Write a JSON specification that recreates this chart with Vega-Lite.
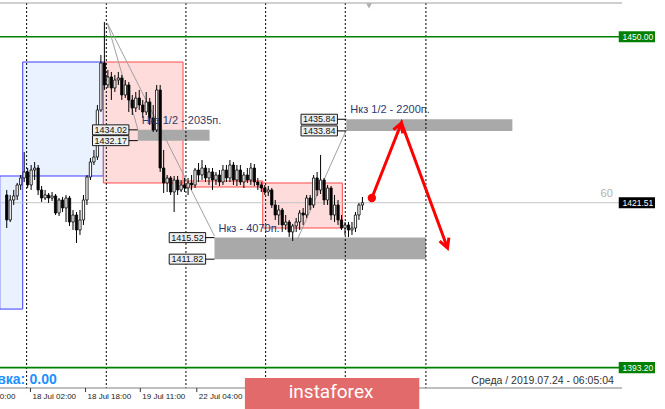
{
"$schema": "https://vega.github.io/schema/vega-lite/v6.json",
"width": 622, "height": 385,
"autosize": {"type": "none"},
"padding": {"left": 0, "top": 3, "right": 43, "bottom": 21},
"background": "white",
"config": {"view": {"stroke": null}, "font": "Liberation Sans"},
"datasets": {
"boxes": [
{"kind":"blue","x1":-2,"x2":4.58,"p1":1426.10,"p2":1403.25},
{"kind":"blue","x1":4.58,"x2":27.7,"p1":1445.67,"p2":1426.10},
{"kind":"red","x1":27.7,"x2":50.55,"p1":1445.67,"p2":1424.90},
{"kind":"red","x1":50.55,"x2":73.4,"p1":1425.24,"p2":1424.21},
{"kind":"red","x1":73.4,"x2":96.24,"p1":1424.90,"p2":1417.17}
],
"zones": [
{"x1":37.57,"x2":58.16,"top":1434.02,"bot":1432.17,"label":"Нкз 1/2 - 2035п."},
{"x1":59.57,"x2":120.2,"top":1415.52,"bot":1411.82,"label":"Нкз - 4070п."},
{"x1":97.37,"x2":145.0,"top":1435.84,"bot":1433.84,"label":"Нкз 1/2 - 2200п."}
],
"grid": [{"t":5.7},{"t":28.55},{"t":51.39},{"t":74.24},{"t":97.08},{"t":120.21}],
"xlabels": [{"t":-10.6,"s":"17 Jul 10:00"},{"t":6.8,"s":"18 Jul 02:00"},{"t":22.6,"s":"18 Jul 18:00"},{"t":38.3,"s":"19 Jul 11:00"},{"t":54.5,"s":"22 Jul 04:00"}],
"hlines": [{"p":1450.00,"kind":"green"},{"p":1393.20,"kind":"green"},{"p":1421.51,"kind":"bid"}],
"trends": [
{"g":"a","t":28.83,"p":1452.37},{"g":"a","t":37.57,"p":1434.17},
{"g":"b","t":28.83,"p":1452.37},{"g":"b","t":59.57,"p":1415.80},
{"g":"c","t":97.37,"p":1434.00},{"g":"c","t":83.26,"p":1415.10}
],
"arrow": [{"k":0,"t":104.7,"p":1422.32},{"k":1,"t":113.2,"p":1435.20},{"k":2,"t":126.4,"p":1413.74}],
"candles": [
{"t":0,"o":1422.84,"h":1423.70,"l":1417.17,"c":1418.55},
{"t":1,"o":1418.55,"h":1422.84,"l":1418.20,"c":1421.98},
{"t":2,"o":1421.98,"h":1423.70,"l":1421.12,"c":1422.67},
{"t":3,"o":1422.67,"h":1424.90,"l":1421.98,"c":1424.56},
{"t":4,"o":1424.56,"h":1426.27,"l":1423.70,"c":1425.76},
{"t":5,"o":1425.76,"h":1430.22,"l":1425.07,"c":1426.79},
{"t":6,"o":1426.79,"h":1427.47,"l":1424.04,"c":1424.56},
{"t":7,"o":1424.56,"h":1427.99,"l":1423.70,"c":1427.13},
{"t":8,"o":1427.13,"h":1428.50,"l":1425.41,"c":1427.47},
{"t":9,"o":1427.47,"h":1427.99,"l":1422.84,"c":1423.70},
{"t":10,"o":1423.70,"h":1424.38,"l":1421.64,"c":1422.32},
{"t":11,"o":1422.32,"h":1423.70,"l":1421.98,"c":1422.84},
{"t":12,"o":1422.84,"h":1423.18,"l":1421.47,"c":1422.32},
{"t":13,"o":1422.32,"h":1423.35,"l":1421.81,"c":1422.67},
{"t":14,"o":1422.67,"h":1423.01,"l":1419.40,"c":1419.75},
{"t":15,"o":1419.75,"h":1422.32,"l":1419.23,"c":1421.98},
{"t":16,"o":1421.98,"h":1422.50,"l":1419.92,"c":1420.61},
{"t":17,"o":1420.61,"h":1422.84,"l":1418.20,"c":1422.32},
{"t":18,"o":1422.32,"h":1422.67,"l":1417.52,"c":1418.20},
{"t":19,"o":1418.20,"h":1420.26,"l":1416.83,"c":1419.40},
{"t":20,"o":1419.40,"h":1419.92,"l":1414.60,"c":1416.83},
{"t":21,"o":1416.83,"h":1420.26,"l":1415.97,"c":1418.55},
{"t":22,"o":1418.55,"h":1422.84,"l":1417.69,"c":1421.98},
{"t":23,"o":1421.98,"h":1426.27,"l":1421.12,"c":1425.93},
{"t":24,"o":1425.93,"h":1429.19,"l":1425.41,"c":1428.50},
{"t":25,"o":1428.50,"h":1430.57,"l":1427.99,"c":1429.36},
{"t":26,"o":1429.36,"h":1438.29,"l":1428.85,"c":1437.43},
{"t":27,"o":1437.43,"h":1446.88,"l":1437.09,"c":1445.50},
{"t":28,"o":1445.50,"h":1452.54,"l":1440.87,"c":1441.73},
{"t":29,"o":1441.73,"h":1444.30,"l":1441.21,"c":1443.10},
{"t":30,"o":1443.10,"h":1443.96,"l":1439.15,"c":1441.21},
{"t":31,"o":1441.21,"h":1443.44,"l":1440.52,"c":1442.58},
{"t":32,"o":1442.58,"h":1443.96,"l":1441.73,"c":1442.93},
{"t":33,"o":1442.93,"h":1443.44,"l":1439.15,"c":1440.01},
{"t":34,"o":1440.01,"h":1442.58,"l":1439.49,"c":1441.73},
{"t":35,"o":1441.73,"h":1442.24,"l":1437.09,"c":1439.15},
{"t":36,"o":1439.15,"h":1440.01,"l":1436.57,"c":1437.78},
{"t":37,"o":1437.78,"h":1440.52,"l":1437.09,"c":1439.49},
{"t":38,"o":1439.49,"h":1440.87,"l":1437.43,"c":1438.29},
{"t":39,"o":1438.29,"h":1439.15,"l":1436.06,"c":1437.09},
{"t":40,"o":1437.09,"h":1440.52,"l":1436.57,"c":1438.81},
{"t":41,"o":1438.81,"h":1439.49,"l":1434.86,"c":1436.06},
{"t":42,"o":1436.06,"h":1438.29,"l":1433.66,"c":1434.00},
{"t":43,"o":1434.00,"h":1441.73,"l":1433.66,"c":1440.87},
{"t":44,"o":1440.87,"h":1441.73,"l":1426.79,"c":1427.47},
{"t":45,"o":1427.47,"h":1430.57,"l":1423.18,"c":1424.90},
{"t":46,"o":1424.90,"h":1426.27,"l":1423.35,"c":1425.76},
{"t":47,"o":1425.76,"h":1426.10,"l":1422.84,"c":1423.35},
{"t":48,"o":1423.35,"h":1426.10,"l":1419.92,"c":1425.41},
{"t":49,"o":1425.41,"h":1426.10,"l":1422.84,"c":1423.70},
{"t":50,"o":1423.70,"h":1425.41,"l":1423.35,"c":1424.56},
{"t":51,"o":1424.56,"h":1425.76,"l":1423.35,"c":1424.04},
{"t":52,"o":1424.04,"h":1425.76,"l":1422.84,"c":1424.90},
{"t":53,"o":1424.90,"h":1426.27,"l":1423.70,"c":1424.56},
{"t":54,"o":1424.56,"h":1427.47,"l":1424.04,"c":1427.13},
{"t":55,"o":1427.13,"h":1428.33,"l":1425.07,"c":1426.27},
{"t":56,"o":1426.27,"h":1428.85,"l":1425.41,"c":1427.47},
{"t":57,"o":1427.47,"h":1427.99,"l":1425.07,"c":1425.76},
{"t":58,"o":1425.76,"h":1427.47,"l":1424.56,"c":1426.79},
{"t":59,"o":1426.79,"h":1427.47,"l":1423.70,"c":1425.41},
{"t":60,"o":1425.41,"h":1426.79,"l":1424.56,"c":1426.27},
{"t":61,"o":1426.27,"h":1427.13,"l":1424.38,"c":1425.07},
{"t":62,"o":1425.07,"h":1427.99,"l":1424.56,"c":1427.13},
{"t":63,"o":1427.13,"h":1427.99,"l":1425.07,"c":1425.76},
{"t":64,"o":1425.76,"h":1428.85,"l":1425.07,"c":1427.99},
{"t":65,"o":1427.99,"h":1428.50,"l":1424.56,"c":1425.41},
{"t":66,"o":1425.41,"h":1427.99,"l":1424.38,"c":1427.13},
{"t":67,"o":1427.13,"h":1427.99,"l":1424.56,"c":1425.07},
{"t":68,"o":1425.07,"h":1426.79,"l":1424.04,"c":1426.27},
{"t":69,"o":1426.27,"h":1427.47,"l":1424.90,"c":1425.41},
{"t":70,"o":1425.41,"h":1428.33,"l":1424.56,"c":1427.47},
{"t":71,"o":1427.47,"h":1428.16,"l":1424.38,"c":1425.07},
{"t":72,"o":1425.07,"h":1425.76,"l":1423.70,"c":1424.56},
{"t":73,"o":1424.56,"h":1425.07,"l":1423.35,"c":1424.04},
{"t":74,"o":1424.04,"h":1424.56,"l":1422.84,"c":1423.35},
{"t":75,"o":1423.35,"h":1424.38,"l":1422.67,"c":1423.70},
{"t":76,"o":1423.70,"h":1424.04,"l":1420.61,"c":1421.12},
{"t":77,"o":1421.12,"h":1421.98,"l":1418.55,"c":1419.40},
{"t":78,"o":1419.40,"h":1421.12,"l":1417.69,"c":1420.26},
{"t":79,"o":1420.26,"h":1420.61,"l":1416.49,"c":1417.69},
{"t":80,"o":1417.69,"h":1419.40,"l":1416.83,"c":1418.20},
{"t":81,"o":1418.20,"h":1418.55,"l":1415.63,"c":1416.49},
{"t":82,"o":1416.49,"h":1417.86,"l":1414.94,"c":1417.52},
{"t":83,"o":1417.52,"h":1418.89,"l":1416.49,"c":1418.20},
{"t":84,"o":1418.20,"h":1420.26,"l":1416.83,"c":1419.75},
{"t":85,"o":1419.75,"h":1420.61,"l":1417.69,"c":1419.40},
{"t":86,"o":1419.40,"h":1422.84,"l":1418.89,"c":1422.32},
{"t":87,"o":1422.32,"h":1422.84,"l":1420.26,"c":1421.12},
{"t":88,"o":1421.12,"h":1426.27,"l":1420.61,"c":1425.76},
{"t":89,"o":1425.76,"h":1426.79,"l":1422.67,"c":1423.70},
{"t":90,"o":1423.70,"h":1429.71,"l":1423.01,"c":1425.41},
{"t":91,"o":1425.41,"h":1425.76,"l":1421.12,"c":1421.98},
{"t":92,"o":1421.98,"h":1424.56,"l":1421.12,"c":1424.04},
{"t":93,"o":1424.04,"h":1424.38,"l":1418.55,"c":1419.40},
{"t":94,"o":1419.40,"h":1422.84,"l":1418.20,"c":1421.12},
{"t":95,"o":1421.12,"h":1421.98,"l":1417.69,"c":1418.55},
{"t":96,"o":1418.55,"h":1419.40,"l":1416.83,"c":1417.17},
{"t":97,"o":1417.17,"h":1418.20,"l":1415.97,"c":1417.69},
{"t":98,"o":1417.69,"h":1418.20,"l":1415.63,"c":1416.83},
{"t":99,"o":1416.83,"h":1418.20,"l":1415.97,"c":1417.17},
{"t":100,"o":1417.17,"h":1419.92,"l":1416.49,"c":1419.40},
{"t":101,"o":1419.40,"h":1421.47,"l":1418.55,"c":1421.12},
{"t":102,"o":1421.12,"h":1422.50,"l":1420.26,"c":1421.51}
]
},
"layer": [
{"data":{"name":"boxes"},"transform":[{"filter":"datum.kind==='blue'"}],
 "mark":{"type":"rect","fill":"#EAF2FF","stroke":"#3B3BFF","strokeWidth":1},
 "encoding":{"x":{"field":"x1","type":"quantitative","scale":{"domain":[-0.5,175],"nice":false,"zero":false},"axis":null},
  "x2":{"field":"x2"},
  "y":{"field":"p1","type":"quantitative","scale":{"domain":[1389.7,1455.8],"nice":false,"zero":false},
   "axis":{"orient":"right","values":[1454.95,1444.90,1439.95,1434.85,1429.90,1424.80,1419.85,1414.90,1409.80,1404.85,1399.75,1394.80,1389.85],"format":".2f","title":null,"grid":false,"domainColor":"#808080","tickColor":"#333333","tickSize":3,"labelPadding":2,"labelFontSize":8.5,"labelColor":"#222222","labelFont":"Liberation Sans","labelOverlap":false}},
  "y2":{"field":"p2"}}},
{"data":{"name":"boxes"},"transform":[{"filter":"datum.kind==='red'"}],
 "mark":{"type":"rect","fill":"#FFDCDC","stroke":"#FF4A4A","strokeWidth":1},
 "encoding":{"x":{"field":"x1","type":"quantitative","scale":{"domain":[-0.5,175],"nice":false,"zero":false},"axis":null},"x2":{"field":"x2"},
  "y":{"field":"p1","type":"quantitative","scale":{"domain":[1389.7,1455.8],"nice":false,"zero":false},"axis":null},"y2":{"field":"p2"}}},
{"data":{"name":"zones"},
 "mark":{"type":"rect","fill":"#A9A9A9"},
 "encoding":{"x":{"field":"x1","type":"quantitative","scale":{"domain":[-0.5,175],"nice":false,"zero":false},"axis":null},"x2":{"field":"x2"},
  "y":{"field":"top","type":"quantitative","scale":{"domain":[1389.7,1455.8],"nice":false,"zero":false},"axis":null},"y2":{"field":"bot"}}},
{"data":{"name":"grid"},
 "mark":{"type":"rule","stroke":"#000000","strokeDash":[2,2],"strokeWidth":1},
 "encoding":{"x":{"field":"t","type":"quantitative","scale":{"domain":[-0.5,175],"nice":false,"zero":false},"axis":null}}},
{"data":{"values":[{"edge":"top"}]},"transform":[{"calculate":"1455.8","as":"p"}],
 "mark":{"type":"rule","stroke":"#A0A0A0","strokeWidth":1},
 "encoding":{"y":{"field":"p","type":"quantitative","scale":{"domain":[1389.7,1455.8],"nice":false,"zero":false},"axis":null}}},
{"data":{"values":[{"edge":"bottom"}]},"transform":[{"calculate":"1389.7","as":"p"}],
 "mark":{"type":"rule","stroke":"#808080","strokeWidth":1},
 "encoding":{"y":{"field":"p","type":"quantitative","scale":{"domain":[1389.7,1455.8],"nice":false,"zero":false},"axis":null}}},
{"data":{"name":"xlabels"},"transform":[{"calculate":"1389.7","as":"p1"},{"calculate":"1389.0","as":"p2"}],
 "mark":{"type":"rule","stroke":"#333333","strokeWidth":1},
 "encoding":{"x":{"field":"t","type":"quantitative","scale":{"domain":[-0.5,175],"nice":false,"zero":false},"axis":null},
  "y":{"field":"p1","type":"quantitative","scale":{"domain":[1389.7,1455.8],"nice":false,"zero":false},"axis":null},"y2":{"field":"p2"}}},
{"data":{"name":"hlines"},"transform":[{"filter":"datum.kind==='bid'"}],
 "mark":{"type":"rule","stroke":"#C4C4C4","strokeWidth":1},
 "encoding":{"y":{"field":"p","type":"quantitative","scale":{"domain":[1389.7,1455.8],"nice":false,"zero":false},"axis":null}}},
{"data":{"name":"hlines"},"transform":[{"filter":"datum.kind==='green'"}],
 "mark":{"type":"rule","stroke":"#008000","strokeWidth":1.6},
 "encoding":{"y":{"field":"p","type":"quantitative","scale":{"domain":[1389.7,1455.8],"nice":false,"zero":false},"axis":null}}},
{"data":{"name":"trends"},
 "mark":{"type":"line","stroke":"#A0A0A0","strokeWidth":1},
 "encoding":{"x":{"field":"t","type":"quantitative","scale":{"domain":[-0.5,175],"nice":false,"zero":false},"axis":null},
  "y":{"field":"p","type":"quantitative","scale":{"domain":[1389.7,1455.8],"nice":false,"zero":false},"axis":null},
  "detail":{"field":"g","type":"nominal"}}},
{"data":{"name":"candles"},
 "mark":{"type":"rule","stroke":"#000000","strokeWidth":1},
 "encoding":{"x":{"field":"t","type":"quantitative","scale":{"domain":[-0.5,175],"nice":false,"zero":false},"axis":null},
  "y":{"field":"l","type":"quantitative","scale":{"domain":[1389.7,1455.8],"nice":false,"zero":false},"axis":null},
  "y2":{"field":"h"}}},
{"data":{"name":"candles"},
 "mark":{"type":"bar","width":2.3,"stroke":"#000000","strokeWidth":0.8},
 "encoding":{"x":{"field":"t","type":"quantitative","scale":{"domain":[-0.5,175],"nice":false,"zero":false},"axis":null},
  "y":{"field":"o","type":"quantitative","scale":{"domain":[1389.7,1455.8],"nice":false,"zero":false},"axis":null},
  "y2":{"field":"c"},
  "fill":{"condition":{"test":"datum.c >= datum.o","value":"#FFFFFF"},"value":"#000000"}}},
{"data":{"name":"zones"},"transform":[{"fold":["top","bot"],"as":["side","price"]},{"calculate":"datum.x1 - 12.98","as":"bx1"},{"calculate":"datum.x1 - 2.54","as":"bx2"},{"calculate":"datum.price - 0.86","as":"py1"},{"calculate":"datum.price + 0.86","as":"py2"}],
 "mark":{"type":"rect","fill":"#EFEFEF","stroke":"#1A1A1A","strokeWidth":1},
 "encoding":{"x":{"field":"bx1","type":"quantitative","scale":{"domain":[-0.5,175],"nice":false,"zero":false},"axis":null},"x2":{"field":"bx2"},
  "y":{"field":"py1","type":"quantitative","scale":{"domain":[1389.7,1455.8],"nice":false,"zero":false},"axis":null},"y2":{"field":"py2"}}},
{"data":{"name":"zones"},"transform":[{"fold":["top","bot"],"as":["side","price"]},{"calculate":"datum.x1 - 2.54","as":"bx2"}],
 "mark":{"type":"rule","stroke":"#000000","strokeWidth":1},
 "encoding":{"x":{"field":"bx2","type":"quantitative","scale":{"domain":[-0.5,175],"nice":false,"zero":false},"axis":null},"x2":{"field":"x1"},
  "y":{"field":"price","type":"quantitative","scale":{"domain":[1389.7,1455.8],"nice":false,"zero":false},"axis":null}}},
{"data":{"name":"zones"},"transform":[{"fold":["top","bot"],"as":["side","price"]},{"calculate":"datum.x1 - 7.76","as":"tx"}],
 "mark":{"type":"text","fontSize":9,"fill":"#111111","align":"center","baseline":"middle","font":"Liberation Sans"},
 "encoding":{"x":{"field":"tx","type":"quantitative","scale":{"domain":[-0.5,175],"nice":false,"zero":false},"axis":null},
  "y":{"field":"price","type":"quantitative","scale":{"domain":[1389.7,1455.8],"nice":false,"zero":false},"axis":null},
  "text":{"field":"price","type":"quantitative","format":".2f"}}},
{"data":{"name":"zones"},
 "mark":{"type":"text","fontSize":11,"fill":"#2E3A6B","align":"left","baseline":"middle","dx":4,"dy":-9,"font":"Liberation Sans"},
 "encoding":{"x":{"field":"x1","type":"quantitative","scale":{"domain":[-0.5,175],"nice":false,"zero":false},"axis":null},
  "y":{"field":"top","type":"quantitative","scale":{"domain":[1389.7,1455.8],"nice":false,"zero":false},"axis":null},
  "text":{"field":"label","type":"nominal"}}},
{"data":{"name":"arrow"},
 "mark":{"type":"line","stroke":"#FF0000","strokeWidth":3},
 "encoding":{"x":{"field":"t","type":"quantitative","scale":{"domain":[-0.5,175],"nice":false,"zero":false},"axis":null},
  "y":{"field":"p","type":"quantitative","scale":{"domain":[1389.7,1455.8],"nice":false,"zero":false},"axis":null},
  "order":{"field":"k","type":"quantitative"}}},
{"data":{"name":"arrow"},"transform":[{"filter":"datum.k===0"}],
 "mark":{"type":"point","filled":true,"fill":"#FF0000","size":70,"opacity":1},
 "encoding":{"x":{"field":"t","type":"quantitative","scale":{"domain":[-0.5,175],"nice":false,"zero":false},"axis":null},
  "y":{"field":"p","type":"quantitative","scale":{"domain":[1389.7,1455.8],"nice":false,"zero":false},"axis":null}}},
{"data":{"name":"arrow"},"transform":[{"filter":"datum.k===1"}],
 "mark":{"type":"point","shape":"M-0.7,1.3L0,0L0.7,1.3","filled":false,"stroke":"#FF0000","strokeWidth":3,"size":200,"angle":22,"opacity":1},
 "encoding":{"x":{"field":"t","type":"quantitative","scale":{"domain":[-0.5,175],"nice":false,"zero":false},"axis":null},
  "y":{"field":"p","type":"quantitative","scale":{"domain":[1389.7,1455.8],"nice":false,"zero":false},"axis":null}}},
{"data":{"name":"arrow"},"transform":[{"filter":"datum.k===2"}],
 "mark":{"type":"point","shape":"M-0.7,1.3L0,0L0.7,1.3","filled":false,"stroke":"#FF0000","strokeWidth":3,"size":200,"angle":159,"opacity":1},
 "encoding":{"x":{"field":"t","type":"quantitative","scale":{"domain":[-0.5,175],"nice":false,"zero":false},"axis":null},
  "y":{"field":"p","type":"quantitative","scale":{"domain":[1389.7,1455.8],"nice":false,"zero":false},"axis":null}}},
{"data":{"name":"hlines"},"transform":[{"calculate":"datum.p - 0.95","as":"py1"},{"calculate":"datum.p + 0.95","as":"py2"},{"calculate":"175.5","as":"bx1"},{"calculate":"185.9","as":"bx2"}],
 "mark":{"type":"rect"},
 "encoding":{"x":{"field":"bx1","type":"quantitative","scale":{"domain":[-0.5,175],"nice":false,"zero":false},"axis":null},"x2":{"field":"bx2"},
  "y":{"field":"py1","type":"quantitative","scale":{"domain":[1389.7,1455.8],"nice":false,"zero":false},"axis":null},"y2":{"field":"py2"},
  "fill":{"condition":{"test":"datum.kind==='bid'","value":"#000000"},"value":"#008000"}}},
{"data":{"name":"hlines"},"transform":[{"calculate":"176.6","as":"tx"}],
 "mark":{"type":"text","fill":"#FFFFFF","fontSize":8.5,"align":"left","baseline":"middle","font":"Liberation Sans"},
 "encoding":{"x":{"field":"tx","type":"quantitative","scale":{"domain":[-0.5,175],"nice":false,"zero":false},"axis":null},
  "y":{"field":"p","type":"quantitative","scale":{"domain":[1389.7,1455.8],"nice":false,"zero":false},"axis":null},
  "text":{"field":"p","type":"quantitative","format":".2f"}}},
{"data":{"name":"xlabels"},"transform":[{"calculate":"1388.84","as":"p"}],
 "mark":{"type":"text","fill":"#222222","fontSize":8,"align":"left","baseline":"top","dx":2,"font":"Liberation Sans"},
 "encoding":{"x":{"field":"t","type":"quantitative","scale":{"domain":[-0.5,175],"nice":false,"zero":false},"axis":null},
  "y":{"field":"p","type":"quantitative","scale":{"domain":[1389.7,1455.8],"nice":false,"zero":false},"axis":null},
  "text":{"field":"s","type":"nominal"}}},
{"data":{"values":[{"t":173.8,"p":1423.0,"s":"60"}]},
 "mark":{"type":"text","fill":"#B0B0B0","fontSize":11,"align":"right","baseline":"middle","font":"Liberation Sans"},
 "encoding":{"x":{"field":"t","type":"quantitative","scale":{"domain":[-0.5,175],"nice":false,"zero":false},"axis":null},
  "y":{"field":"p","type":"quantitative","scale":{"domain":[1389.7,1455.8],"nice":false,"zero":false},"axis":null},
  "text":{"field":"s","type":"nominal"}}},
{"data":{"values":[{"t":174.1,"p":1390.9,"s":"Среда  /  2019.07.24  -  06:05:04"}]},
 "mark":{"type":"text","fill":"#333333","fontSize":10.5,"align":"right","baseline":"middle","font":"Liberation Sans"},
 "encoding":{"x":{"field":"t","type":"quantitative","scale":{"domain":[-0.5,175],"nice":false,"zero":false},"axis":null},
  "y":{"field":"p","type":"quantitative","scale":{"domain":[1389.7,1455.8],"nice":false,"zero":false},"axis":null},
  "text":{"field":"s","type":"nominal"}}},
{"data":{"values":[{"t":5.3,"p":1391.07,"s":"Ставка:"}]},
 "mark":{"type":"text","fill":"#1E90FF","fontSize":14,"fontWeight":"bold","align":"right","baseline":"middle","font":"Liberation Sans"},
 "encoding":{"x":{"field":"t","type":"quantitative","scale":{"domain":[-0.5,175],"nice":false,"zero":false},"axis":null},
  "y":{"field":"p","type":"quantitative","scale":{"domain":[1389.7,1455.8],"nice":false,"zero":false},"axis":null},
  "text":{"field":"s","type":"nominal"}}},
{"data":{"values":[{"t":6.55,"p":1391.07,"s":"0.00"}]},
 "mark":{"type":"text","fill":"#1E90FF","fontSize":14,"fontWeight":"bold","align":"left","baseline":"middle","font":"Liberation Sans"},
 "encoding":{"x":{"field":"t","type":"quantitative","scale":{"domain":[-0.5,175],"nice":false,"zero":false},"axis":null},
  "y":{"field":"p","type":"quantitative","scale":{"domain":[1389.7,1455.8],"nice":false,"zero":false},"axis":null},
  "text":{"field":"s","type":"nominal"}}},
{"data":{"values":[{"x1":68.3,"x2":118.3,"p1":1391.42,"p2":1385.0}]},
 "mark":{"type":"rect","fill":"#E26A6A"},
 "encoding":{"x":{"field":"x1","type":"quantitative","scale":{"domain":[-0.5,175],"nice":false,"zero":false},"axis":null},"x2":{"field":"x2"},
  "y":{"field":"p1","type":"quantitative","scale":{"domain":[1389.7,1455.8],"nice":false,"zero":false},"axis":null},"y2":{"field":"p2"}}},
{"data":{"values":[{"t":93.0,"p":1389.0,"s":"instaforex"}]},
 "mark":{"type":"text","fill":"#FFFFFF","fontSize":19,"align":"center","baseline":"middle","font":"Roboto"},
 "encoding":{"x":{"field":"t","type":"quantitative","scale":{"domain":[-0.5,175],"nice":false,"zero":false},"axis":null},
  "y":{"field":"p","type":"quantitative","scale":{"domain":[1389.7,1455.8],"nice":false,"zero":false},"axis":null},
  "text":{"field":"s","type":"nominal"}}},
{"data":{"values":[{"t":103.9,"p":1455.3}]},
 "mark":{"type":"point","shape":"triangle-down","filled":true,"fill":"#B0B0B0","size":35,"opacity":1},
 "encoding":{"x":{"field":"t","type":"quantitative","scale":{"domain":[-0.5,175],"nice":false,"zero":false},"axis":null},
  "y":{"field":"p","type":"quantitative","scale":{"domain":[1389.7,1455.8],"nice":false,"zero":false},"axis":null}}}
]
}
